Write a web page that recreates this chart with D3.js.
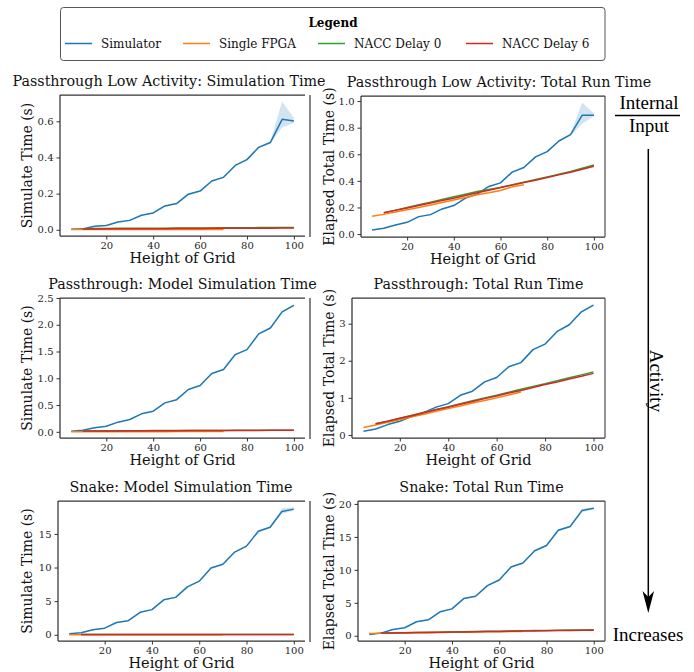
<!DOCTYPE html>
<html>
<head>
<meta charset="utf-8">
<script src="https://cdnjs.cloudflare.com/ajax/libs/d3/7.8.5/d3.min.js"></script>
<style>
  body { margin: 0; background: #fff; }
  svg { display: block; }
  .tick text { font-family: "DejaVu Serif", serif; font-size: 10px; fill: #262626; }
  .tick line { stroke: #333; stroke-width: 1; }
</style>
</head>
<body>
<svg width="694" height="672"></svg>
<script>
// Series and categories
const seriesNames = ['Simulator', 'Single FPGA', 'NACC Delay 0', 'NACC Delay 6'];
const seriesColors = ['#1f77b4', '#ff7f0e', '#2ca02c', '#d62728'];

// Height of grid for each series
const heightsSim = [5, 10, 15, 20, 25, 30, 35, 40, 45, 50, 55, 60, 65, 70, 75, 80, 85, 90, 95, 100];
const heightsFpga = [5, 10, 15, 20, 25, 30, 35, 40, 45, 50, 55, 60, 65, 70];
const heightsNacc = [10, 15, 20, 25, 30, 35, 40, 45, 50, 55, 60, 65, 70, 75, 80, 85, 90, 95, 100];
const xTicks = [20, 40, 60, 80, 100];

// Passthrough low activity: simulation time
const lowSimMean = [0.003, 0.005, 0.019, 0.024, 0.043, 0.052, 0.080, 0.093, 0.132, 0.145, 0.197, 0.214, 0.270, 0.290, 0.356, 0.388, 0.456, 0.483, 0.611, 0.602];
const lowSimLo = [0.002, 0.004, 0.016, 0.021, 0.040, 0.049, 0.077, 0.090, 0.128, 0.141, 0.193, 0.210, 0.266, 0.286, 0.351, 0.383, 0.450, 0.478, 0.565, 0.590];
const lowSimHi = [0.004, 0.007, 0.022, 0.027, 0.046, 0.055, 0.083, 0.096, 0.136, 0.149, 0.201, 0.218, 0.274, 0.294, 0.361, 0.393, 0.462, 0.490, 0.710, 0.618];
const lowSimFpga = [0.001, 0.001, 0.001, 0.001, 0.001, 0.001, 0.001, 0.002, 0.002, 0.002, 0.002, 0.002, 0.002, 0.002];
const lowSimNacc0 = [0.006, 0.007, 0.007, 0.008, 0.008, 0.009, 0.009, 0.009, 0.010, 0.010, 0.010, 0.010, 0.011, 0.011, 0.011, 0.012, 0.012, 0.012, 0.012];
const lowSimNacc6 = [0.004, 0.004, 0.005, 0.005, 0.005, 0.006, 0.006, 0.006, 0.007, 0.007, 0.007, 0.008, 0.008, 0.008, 0.009, 0.009, 0.009, 0.010, 0.010];

// Passthrough low activity: total run time
const lowTotMean = [0.030, 0.043, 0.068, 0.088, 0.131, 0.146, 0.189, 0.214, 0.270, 0.300, 0.358, 0.385, 0.466, 0.500, 0.580, 0.620, 0.700, 0.748, 0.894, 0.894];
const lowTotLo = [0.026, 0.039, 0.064, 0.084, 0.127, 0.142, 0.185, 0.210, 0.265, 0.295, 0.353, 0.380, 0.460, 0.494, 0.574, 0.614, 0.694, 0.740, 0.830, 0.885];
const lowTotHi = [0.034, 0.047, 0.072, 0.092, 0.135, 0.150, 0.193, 0.218, 0.275, 0.305, 0.363, 0.390, 0.472, 0.506, 0.586, 0.626, 0.706, 0.756, 0.990, 0.905];
const lowTotFpga = [0.133, 0.148, 0.165, 0.183, 0.200, 0.218, 0.237, 0.256, 0.275, 0.295, 0.310, 0.328, 0.355, 0.370];
const lowTotNacc0 = [0.160, 0.180, 0.200, 0.220, 0.240, 0.260, 0.280, 0.300, 0.320, 0.335, 0.350, 0.370, 0.390, 0.410, 0.430, 0.450, 0.470, 0.495, 0.520];
const lowTotNacc6 = [0.160, 0.178, 0.196, 0.215, 0.233, 0.252, 0.270, 0.290, 0.310, 0.330, 0.350, 0.368, 0.387, 0.405, 0.425, 0.445, 0.465, 0.487, 0.510];

// Passthrough: model simulation time
const passSimMean = [0.012, 0.030, 0.075, 0.105, 0.180, 0.230, 0.336, 0.385, 0.540, 0.600, 0.790, 0.865, 1.090, 1.163, 1.443, 1.536, 1.830, 1.940, 2.240, 2.363];
const passSimLo = [0.010, 0.027, 0.071, 0.100, 0.174, 0.224, 0.329, 0.378, 0.532, 0.591, 0.780, 0.855, 1.079, 1.151, 1.430, 1.522, 1.815, 1.924, 2.222, 2.345];
const passSimHi = [0.014, 0.033, 0.079, 0.110, 0.186, 0.236, 0.343, 0.392, 0.548, 0.609, 0.800, 0.875, 1.101, 1.175, 1.456, 1.550, 1.845, 1.956, 2.258, 2.381];
const passSimFpga = [0.003, 0.003, 0.003, 0.003, 0.003, 0.003, 0.003, 0.003, 0.003, 0.004, 0.004, 0.004, 0.004, 0.004];
const passSimNacc0 = [0.016, 0.017, 0.018, 0.019, 0.020, 0.021, 0.022, 0.022, 0.023, 0.024, 0.025, 0.025, 0.026, 0.027, 0.027, 0.028, 0.029, 0.029, 0.030];
const passSimNacc6 = [0.014, 0.015, 0.016, 0.017, 0.018, 0.019, 0.020, 0.020, 0.021, 0.022, 0.023, 0.023, 0.024, 0.025, 0.025, 0.026, 0.027, 0.027, 0.028];

// Passthrough: total run time
const passTotMean = [0.10, 0.16, 0.28, 0.37, 0.50, 0.61, 0.75, 0.845, 1.07, 1.18, 1.43, 1.55, 1.84, 1.95, 2.30, 2.45, 2.79, 2.97, 3.32, 3.50];
const passTotLo = [0.09, 0.15, 0.27, 0.36, 0.49, 0.60, 0.74, 0.83, 1.06, 1.17, 1.41, 1.53, 1.82, 1.93, 2.28, 2.43, 2.77, 2.95, 3.29, 3.48];
const passTotHi = [0.11, 0.17, 0.29, 0.38, 0.51, 0.62, 0.76, 0.86, 1.08, 1.19, 1.45, 1.57, 1.86, 1.97, 2.32, 2.47, 2.81, 2.99, 3.35, 3.52];
const passTotFpga = [0.20, 0.27, 0.34, 0.41, 0.49, 0.56, 0.64, 0.71, 0.78, 0.86, 0.93, 1.00, 1.08, 1.16];
const passTotNacc0 = [0.30, 0.37, 0.45, 0.53, 0.61, 0.69, 0.76, 0.84, 0.92, 1.00, 1.07, 1.15, 1.23, 1.31, 1.38, 1.46, 1.54, 1.62, 1.70];
const passTotNacc6 = [0.30, 0.37, 0.45, 0.52, 0.60, 0.68, 0.75, 0.83, 0.90, 0.98, 1.05, 1.13, 1.20, 1.28, 1.36, 1.43, 1.51, 1.58, 1.66];

// Snake: model simulation time
const snakeSimMean = [0.15, 0.30, 0.74, 0.98, 1.82, 2.10, 3.34, 3.74, 5.20, 5.56, 7.13, 7.97, 9.94, 10.48, 12.30, 13.18, 15.40, 15.99, 18.35, 18.69];
const snakeSimLo = [0.12, 0.27, 0.70, 0.93, 1.76, 2.04, 3.27, 3.66, 5.11, 5.47, 7.03, 7.86, 9.82, 10.35, 12.16, 13.03, 15.24, 15.82, 18.00, 18.45];
const snakeSimHi = [0.18, 0.33, 0.78, 1.03, 1.88, 2.16, 3.41, 3.82, 5.29, 5.65, 7.23, 8.08, 10.06, 10.61, 12.44, 13.33, 15.56, 16.16, 18.80, 18.95];
const snakeSimFpga = [0.02, 0.02, 0.02, 0.02, 0.02, 0.02, 0.02, 0.02, 0.02, 0.02, 0.02, 0.02, 0.02, 0.02];
const snakeSimNacc0 = [0.05, 0.05, 0.05, 0.05, 0.05, 0.05, 0.05, 0.05, 0.05, 0.05, 0.05, 0.05, 0.05, 0.05, 0.05, 0.05, 0.05, 0.05, 0.05];
const snakeSimNacc6 = [0.05, 0.05, 0.05, 0.05, 0.05, 0.05, 0.05, 0.05, 0.05, 0.05, 0.05, 0.05, 0.05, 0.05, 0.05, 0.05, 0.05, 0.05, 0.05];

// Snake: total run time
const snakeTotMean = [0.20, 0.40, 0.96, 1.21, 2.12, 2.42, 3.63, 4.08, 5.64, 6.00, 7.60, 8.46, 10.43, 11.03, 12.90, 13.70, 16.00, 16.57, 18.99, 19.34];
const snakeTotLo = [0.17, 0.37, 0.92, 1.16, 2.06, 2.36, 3.56, 4.00, 5.55, 5.91, 7.50, 8.35, 10.31, 10.90, 12.76, 13.55, 15.84, 16.40, 18.75, 19.20];
const snakeTotHi = [0.23, 0.43, 1.00, 1.26, 2.18, 2.48, 3.70, 4.16, 5.73, 6.09, 7.70, 8.57, 10.55, 11.16, 13.04, 13.85, 16.16, 16.74, 19.25, 19.48];
const snakeTotFpga = [0.35, 0.37, 0.40, 0.42, 0.45, 0.47, 0.50, 0.52, 0.55, 0.57, 0.60, 0.62, 0.64, 0.66];
const snakeTotNacc0 = [0.40, 0.43, 0.46, 0.49, 0.52, 0.55, 0.58, 0.61, 0.64, 0.67, 0.69, 0.72, 0.75, 0.78, 0.80, 0.83, 0.86, 0.88, 0.90];
const snakeTotNacc6 = [0.40, 0.42, 0.45, 0.48, 0.50, 0.53, 0.56, 0.58, 0.61, 0.63, 0.66, 0.69, 0.71, 0.74, 0.76, 0.79, 0.81, 0.83, 0.85];

// y tick labels for each panel
const lowSimTicks = [0.0, 0.2, 0.4, 0.6];
const lowTotTicks = [0.0, 0.2, 0.4, 0.6, 0.8, 1.0];
const passSimTicks = [0.0, 0.5, 1.0, 1.5, 2.0, 2.5];
const passTotTicks = [0, 1, 2, 3];
const snakeSimTicks = [0, 5, 10, 15];
const snakeTotTicks = [0, 5, 10, 15, 20];

const SERIF = '"DejaVu Serif", serif';
const svg = d3.select('svg');

// box = [left, right, top, bottom]; titleX = centre of the title
const panels = [
  {title: 'Passthrough Low Activity: Simulation Time', ylabel: 'Simulate Time (s)', box: [60, 305, 95, 236], titleX: 169, left: true,
    mean: lowSimMean, lo: lowSimLo, hi: lowSimHi, fpga: lowSimFpga, nacc0: lowSimNacc0, nacc6: lowSimNacc6, ticks: lowSimTicks, fmt: '.1f'},
  {title: 'Passthrough Low Activity: Total Run Time', ylabel: 'Elapsed Total Time (s)', box: [361, 605, 96, 237], titleX: 499, left: false,
    mean: lowTotMean, lo: lowTotLo, hi: lowTotHi, fpga: lowTotFpga, nacc0: lowTotNacc0, nacc6: lowTotNacc6, ticks: lowTotTicks, fmt: '.1f'},
  {title: 'Passthrough: Model Simulation Time', ylabel: 'Simulate Time (s)', box: [60, 305, 298, 438], titleX: 182.5, left: true,
    mean: passSimMean, lo: passSimLo, hi: passSimHi, fpga: passSimFpga, nacc0: passSimNacc0, nacc6: passSimNacc6, ticks: passSimTicks, fmt: '.1f'},
  {title: 'Passthrough: Total Run Time', ylabel: 'Elapsed Total Time (s)', box: [352, 605, 298, 438], titleX: 478.5, left: false,
    mean: passTotMean, lo: passTotLo, hi: passTotHi, fpga: passTotFpga, nacc0: passTotNacc0, nacc6: passTotNacc6, ticks: passTotTicks, fmt: 'd'},
  {title: 'Snake: Model Simulation Time', ylabel: 'Simulate Time (s)', box: [58, 305, 501, 641], titleX: 181, left: true,
    mean: snakeSimMean, lo: snakeSimLo, hi: snakeSimHi, fpga: snakeSimFpga, nacc0: snakeSimNacc0, nacc6: snakeSimNacc6, ticks: snakeSimTicks, fmt: 'd'},
  {title: 'Snake: Total Run Time', ylabel: 'Elapsed Total Time (s)', box: [358, 605, 501, 641], titleX: 481.5, left: false,
    mean: snakeTotMean, lo: snakeTotLo, hi: snakeTotHi, fpga: snakeTotFpga, nacc0: snakeTotNacc0, nacc6: snakeTotNacc6, ticks: snakeTotTicks, fmt: 'd'},
];

function drawPanel(p) {
  const [x0, x1, y0, y1] = p.box;
  const g = svg.append('g');

  const x = d3.scaleLinear().domain([0.25, 104.75]).range([x0, x1]);
  const all = [].concat(p.lo, p.hi, p.fpga, p.nacc0, p.nacc6);
  const [mn, mx] = d3.extent(all);
  const pad = (mx - mn) * 0.05;
  const y = d3.scaleLinear().domain([mn - pad, mx + pad]).range([y1, y0]);

  // confidence band of the simulator
  const band = d3.area()
    .x((d, i) => x(heightsSim[i]))
    .y0((d, i) => y(p.lo[i]))
    .y1((d, i) => y(p.hi[i]));
  g.append('path')
    .attr('d', band(p.mean))
    .attr('fill', seriesColors[0])
    .attr('fill-opacity', 0.2);

  const lines = [
    [heightsSim, p.mean],
    [heightsFpga, p.fpga],
    [heightsNacc, p.nacc0],
    [heightsNacc, p.nacc6],
  ];
  lines.forEach(([xs, ys], k) => {
    const line = d3.line().x((d, i) => x(xs[i])).y((d) => y(d));
    g.append('path')
      .attr('d', line(ys))
      .attr('fill', 'none')
      .attr('stroke', seriesColors[k])
      .attr('stroke-width', 1.5)
      .attr('stroke-linejoin', 'round');
  });

  // axes
  const xAxis = d3.axisBottom(x).tickValues(xTicks).tickSize(3.5).tickPadding(2);
  g.append('g').attr('transform', `translate(0,${y1})`).call(xAxis)
    .call((a) => a.select('.domain').remove());
  const yAxis = d3.axisLeft(y).tickValues(p.ticks).tickSize(3.5).tickPadding(3)
    .tickFormat(d3.format(p.fmt));
  g.append('g').attr('transform', `translate(${x0},0)`).call(yAxis)
    .call((a) => a.select('.domain').remove());

  // spines
  const spine = (xa, ya, xb, yb, color) => g.append('line')
    .attr('x1', xa).attr('y1', ya).attr('x2', xb).attr('y2', yb)
    .attr('stroke', color || '#333').attr('stroke-width', 1.25);
  spine(x0, y0, x0, y1);
  spine(x0, y1, x1, y1);
  spine(x0, y0, x1, y0);
  if (p.left) {
    g.append('line')
      .attr('x1', 310).attr('x2', 310).attr('y1', y0).attr('y2', y1 + 1)
      .attr('stroke', '#858585').attr('stroke-width', 2);
  } else {
    spine(x1, y0, x1, y1, '#555');
  }

  // labels
  g.append('text')
    .attr('x', p.titleX).attr('y', y0 - 9)
    .attr('text-anchor', 'middle')
    .style('font-family', SERIF).style('font-size', '14.3px').attr('fill', '#111')
    .text(p.title);
  g.append('text')
    .attr('x', (x0 + x1) / 2).attr('y', y1 + 27)
    .attr('text-anchor', 'middle')
    .style('font-family', SERIF).style('font-size', '14.5px').attr('fill', '#111')
    .text('Height of Grid');
  const lx = p.left ? 32 : 334;
  g.append('text')
    .attr('transform', `translate(${lx},${(y0 + y1) / 2}) rotate(-90)`)
    .attr('text-anchor', 'middle')
    .style('font-family', SERIF).style('font-size', '14px').attr('fill', '#111')
    .text(p.ylabel);
}

// draw left panels first so right y labels sit on top
panels.forEach(drawPanel);

// Legend
const legend = svg.append('g');
legend.append('rect')
  .attr('x', 60.5).attr('y', 7.5).attr('width', 544.5).attr('height', 53)
  .attr('rx', 3).attr('fill', '#fff').attr('stroke', '#555').attr('stroke-width', 1);
legend.append('text')
  .attr('x', 333).attr('y', 26.5).attr('text-anchor', 'middle')
  .style('font-family', SERIF).style('font-size', '12px').style('font-weight', 'bold')
  .text('Legend');
const legendX = [65, 183, 318, 466];
seriesNames.forEach((name, i) => {
  legend.append('line')
    .attr('x1', legendX[i]).attr('x2', legendX[i] + 27)
    .attr('y1', 43.5).attr('y2', 43.5)
    .attr('stroke', seriesColors[i]).attr('stroke-width', 1.5);
  legend.append('text')
    .attr('x', legendX[i] + 36).attr('y', 47.5)
    .style('font-family', SERIF).style('font-size', '12px').attr('fill', '#111')
    .text(name);
});

// Right-hand annotation
const ANN = '"Liberation Serif", "Times New Roman", serif';
const ann = svg.append('g').style('font-family', ANN).style('font-size', '19px').attr('fill', '#000');
ann.append('text').attr('x', 649).attr('y', 108.5).attr('text-anchor', 'middle').text('Internal');
ann.append('line').attr('x1', 615).attr('x2', 680).attr('y1', 115.5).attr('y2', 115.5)
  .attr('stroke', '#000').attr('stroke-width', 1.3);
ann.append('text').attr('x', 649).attr('y', 131.5).attr('text-anchor', 'middle').text('Input');
ann.append('line').attr('x1', 648.3).attr('x2', 648.3).attr('y1', 149).attr('y2', 600)
  .attr('stroke', '#000').attr('stroke-width', 1.5);
ann.append('path')
  .attr('d', 'M648.3,613 L642.5,591 L648.3,597 L654.1,591 Z')
  .attr('fill', '#000');
ann.append('text')
  .attr('transform', 'translate(650,381) rotate(90)')
  .attr('text-anchor', 'middle').text('Activity');
ann.append('text').attr('x', 648).attr('y', 641).attr('text-anchor', 'middle').text('Increases');
</script>
</body>
</html>
